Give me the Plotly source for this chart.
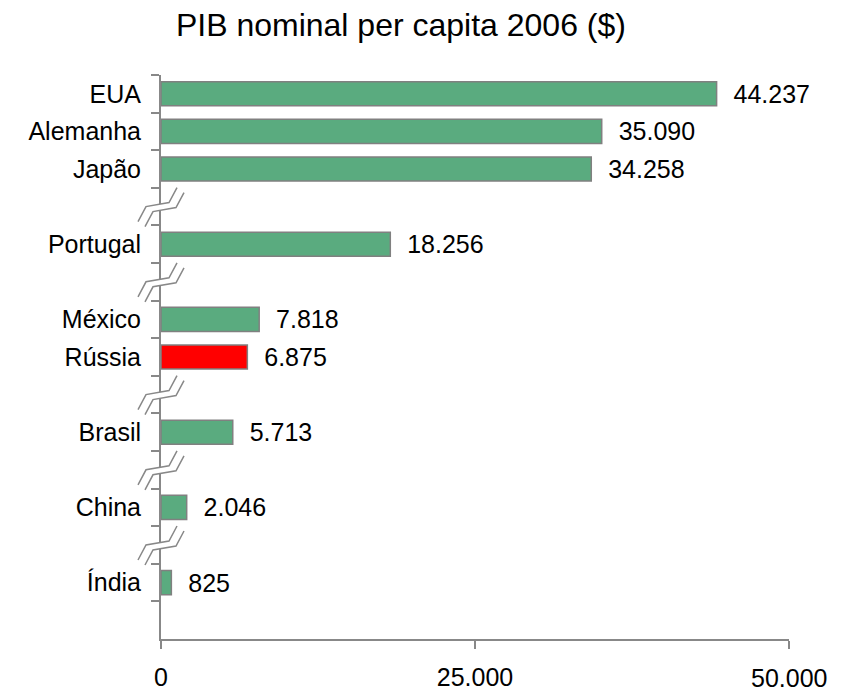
import plotly.graph_objects as go

# ---------------------------------------------------------------- data
countries = ["EUA", "Alemanha", "Japão", "Portugal", "México", "Rússia", "Brasil", "China", "Índia"]
gdp_per_capita = [44237, 35090, 34258, 18256, 7818, 6875, 5713, 2046, 825]
highlight = "Rússia"
# the original chart breaks the category axis after these rows
break_after = ["Japão", "Portugal", "Rússia", "Brasil", "China"]
x_ticks = [0, 25000, 50000]

GREEN = "#5aab7f"
RED = "#ff0000"
GREY = "#888888"
FONT = "Arial, Liberation Sans, sans-serif"

# category order with empty slots where the axis is broken
order = []
for c in countries:
    order.append(c)
    if c in break_after:
        order.append(" " * (len(order) + 1))
order.append(" " * (len(order) + 1))
n_slots = len(order)


def fmt(v):
    return f"{v:,}".replace(",", ".")


colors = [RED if c == highlight else GREEN for c in countries]

fig = go.Figure(go.Bar(
    x=gdp_per_capita, y=countries, orientation="h",
    marker=dict(color=colors, line=dict(color="#808080", width=1.5)),
    width=0.64,
    text=["\u00a0\u00a0" + fmt(v) for v in gdp_per_capita],
    textposition="outside", constraintext="none", cliponaxis=False,
    textfont=dict(size=25, color="black", family=FONT),
    hoverinfo="x+y",
))

# axis-break symbols (two parallel zigzags crossing the y axis), pixel offsets, y up
line_a = [(-23, -15), (-15, 0), (8, 4), (16, 19)]
line_b = [(-16, -20), (-8, -5), (15, -1), (23, 14)]


def path(pts, close=False):
    s = "M " + " L ".join(f"{x},{y}" for x, y in pts)
    return s + (" Z" if close else "")


shapes = []
for c in break_after:
    idx = order.index(c) + 1
    py = 1 - (idx + 0.5) / n_slots
    common = dict(xref="paper", xsizemode="pixel", xanchor=0,
                  yref="paper", ysizemode="pixel", yanchor=py, layer="above")
    shapes.append(dict(type="path", path=path(line_a + line_b[::-1], True),
                       fillcolor="white", line=dict(width=0), **common))
    shapes.append(dict(type="path", path=path(line_a), line=dict(color=GREY, width=1.5), **common))
    shapes.append(dict(type="path", path=path(line_b), line=dict(color=GREY, width=1.5), **common))

# page body keeps its default 8px margin, so the figure is 8px smaller each way
fig.update_layout(
    width=845, height=683,
    margin=dict(l=153, r=64, t=67, b=52),
    paper_bgcolor="white", plot_bgcolor="white",
    showlegend=False,
    font=dict(family=FONT, size=25, color="black"),
    title=dict(text="PIB nominal per capita 2006 ($)", x=0.465, xanchor="center",
               y=0.975, yanchor="middle", font=dict(size=32, family=FONT, color="black")),
    shapes=shapes,
    annotations=[dict(text=fmt(x_ticks[-1]), x=x_ticks[-1], xref="x", y=0, yref="paper",
                      yanchor="middle", yshift=-39, showarrow=False,
                      font=dict(size=25, family=FONT, color="black"))],
)
fig.update_xaxes(
    range=[0, 50000], tickvals=x_ticks,
    ticktext=[fmt(v) for v in x_ticks[:-1]] + [""],
    showline=True, linecolor=GREY, linewidth=2,
    ticks="outside", ticklen=8, tickwidth=2, tickcolor=GREY,
    showgrid=False, zeroline=False, ticklabelstandoff=7, automargin=False,
)
fig.update_yaxes(
    type="category", categoryorder="array", categoryarray=order,
    range=[n_slots - 0.5, -0.5],
    tickson="boundaries", ticks="outside", ticklen=8, tickwidth=2, tickcolor=GREY,
    showline=True, linecolor=GREY, linewidth=2,
    showgrid=False, zeroline=False, ticklabelstandoff=13, automargin=False,
)

fig.write_html("out.html")
